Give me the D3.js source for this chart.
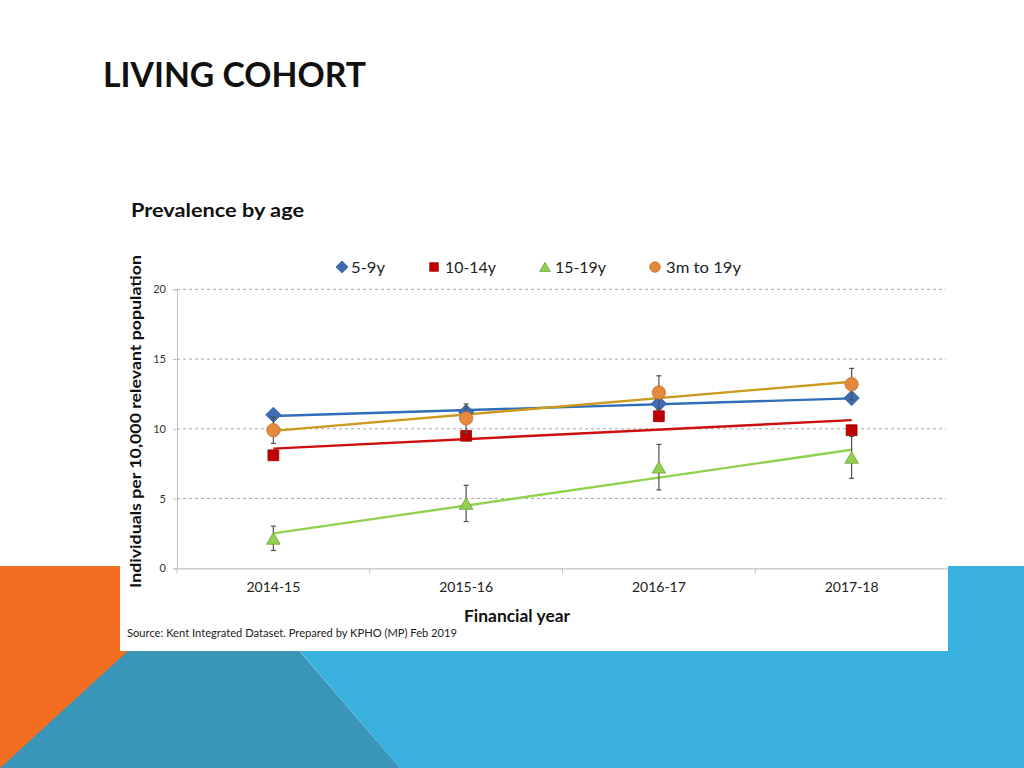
<!DOCTYPE html>
<html><head><meta charset="utf-8">
<script src="https://cdn.jsdelivr.net/npm/d3@7"></script>
<style>body{margin:0;background:#fff;overflow:hidden}svg{display:block}</style>
</head><body>
<script>
// ---- data ----
const categories = ["2014-15", "2015-16", "2016-17", "2017-18"];
const seriesNames = ["5-9y", "10-14y", "15-19y", "3m to 19y"];
const values5to9   = [11.0, 11.2, 11.8, 12.2];
const values10to14 = [8.1, 9.5, 10.9, 9.9];
const values15to19 = [2.15, 4.65, 7.25, 7.95];
const values3mto19 = [9.9, 10.75, 12.6, 13.2];
const err15to19 = [0.87, 1.3, 1.63, 1.5];
const err3mto19 = [0.95, 1.03, 1.2, 1.13];
const yTicks = [0, 5, 10, 15, 20];

const FONT = "Lato, 'Open Sans', sans-serif";
const W = 1024, H = 768;
const svg = d3.select("body").append("svg").attr("width", W).attr("height", H);

// ---- slide background shapes ----
svg.append("rect").attr("width", W).attr("height", H).attr("fill", "#fff");
const bg = [
  {pts: [[0,566],[262,566],[0,792]], fill: "#F36E21"},
  {pts: [[227,566],[1024,566],[1024,768],[400,768]], fill: "#3AB0DE"},
  {pts: [[0,768],[224,563],[400,768]], fill: "#3996B8"}
];
svg.selectAll("polygon.bg").data(bg).enter().append("polygon")
  .attr("points", d => d.pts.map(p => p.join(",")).join(" "))
  .attr("fill", d => d.fill);

// chart white box
svg.append("rect").attr("x", 120).attr("y", 230).attr("width", 828).attr("height", 421).attr("fill", "#fff");

// ---- titles ----
svg.append("text").attr("x", 103).attr("y", 87).text("LIVING COHORT")
  .attr("font-family", FONT).attr("font-weight", 700).attr("font-size", 35)
  .attr("fill", "#111").attr("textLength", 263).attr("lengthAdjust", "spacingAndGlyphs");
svg.append("text").attr("x", 131).attr("y", 217).text("Prevalence by age")
  .attr("font-family", FONT).attr("font-weight", 700).attr("font-size", 19)
  .attr("fill", "#111").attr("textLength", 173).attr("lengthAdjust", "spacingAndGlyphs");

// ---- scales ----
const x = d3.scaleBand().domain(categories).range([177, 948]).padding(0);
const cx = c => x(c) + x.bandwidth() / 2;
const y = d3.scaleLinear().domain([0, 20]).range([568.3, 289.3]);

// gridlines
svg.append("g").selectAll("line").data(yTicks.filter(t => t > 0)).enter().append("line")
  .attr("x1", 177).attr("x2", 946).attr("y1", d => y(d)).attr("y2", d => y(d))
  .attr("stroke", "#A6A6A6").attr("stroke-width", 1).attr("stroke-dasharray", "3,3");

// y axis
const yAxis = svg.append("g").attr("transform", "translate(177,0)")
  .call(d3.axisLeft(y).tickValues(yTicks).tickSize(4).tickPadding(7).tickFormat(d3.format("d")));
yAxis.select(".domain").attr("stroke", "#BFBFBF");
yAxis.selectAll(".tick line").attr("stroke", "#BFBFBF");
yAxis.selectAll("text").attr("font-family", FONT).attr("font-size", 11).attr("fill", "#333");

// x axis
const xAxis = svg.append("g").attr("transform", `translate(0,${y(0)})`)
  .call(d3.axisBottom(x).tickSize(0).tickPadding(14).tickSizeOuter(0));
xAxis.select(".domain").attr("stroke", "#BFBFBF").attr("stroke-width", 1.2);
xAxis.selectAll("text").attr("font-family", FONT).attr("font-size", 14).attr("fill", "#222");
svg.append("g").selectAll("line").data(categories).enter().append("line")
  .attr("x1", d => x(d)).attr("x2", d => x(d))
  .attr("y1", y(0)).attr("y2", y(0) + 5).attr("stroke", "#BFBFBF");

// axis titles
svg.append("text").attr("transform", `translate(141,${(255 + 588) / 2}) rotate(-90)`)
  .attr("text-anchor", "middle").text("Individuals per 10,000 relevant population")
  .attr("font-family", FONT).attr("font-weight", 700).attr("font-size", 16).attr("fill", "#111")
  .attr("textLength", 333).attr("lengthAdjust", "spacingAndGlyphs");
svg.append("text").attr("x", 517).attr("y", 622).attr("text-anchor", "middle").text("Financial year")
  .attr("font-family", FONT).attr("font-weight", 700).attr("font-size", 17).attr("fill", "#111")
  .attr("textLength", 106).attr("lengthAdjust", "spacingAndGlyphs");
svg.append("text").attr("x", 127).attr("y", 637).text("Source: Kent Integrated Dataset. Prepared by KPHO (MP) Feb 2019")
  .attr("font-family", FONT).attr("font-size", 12).attr("fill", "#222")
  .attr("textLength", 330).attr("lengthAdjust", "spacingAndGlyphs");

// ---- series ----
const series = [
  {name: seriesNames[0], vals: values5to9, err: null, symbol: d3.symbolDiamond2, size: 150, fill: "#3C6DB5", stroke: "#2F5D9E", line: "#2E6DB8"},
  {name: seriesNames[1], vals: values10to14, err: null, symbol: d3.symbolSquare2, size: 150, fill: "#C00000", stroke: "#A00000", line: "#CC1010"},
  {name: seriesNames[2], vals: values15to19, err: err15to19, symbol: d3.symbolTriangle2, size: 130, fill: "#92D050", stroke: "#6FA03A", line: "#92D050"},
  {name: seriesNames[3], vals: values3mto19, err: err3mto19, symbol: d3.symbolCircle, size: 140, fill: "#E38A3C", stroke: "#C07030", line: "#CC9A1C"}
];

// linear trendlines (least squares on the category index, like Excel)
function trend(vals) {
  const n = vals.length, xs = d3.range(n);
  const mx = d3.mean(xs), my = d3.mean(vals);
  const b = d3.sum(xs, i => (i - mx) * (vals[i] - my)) / d3.sum(xs, i => (i - mx) ** 2);
  const a = my - b * mx;
  return [[0, a], [n - 1, a + b * (n - 1)]];
}
series.forEach(s => {
  const t = trend(s.vals);
  svg.append("line")
    .attr("x1", cx(categories[t[0][0]])).attr("y1", y(t[0][1]))
    .attr("x2", cx(categories[t[1][0]])).attr("y2", y(t[1][1]))
    .attr("stroke", s.line).attr("stroke-width", 2.4);
});

series.forEach(s => {
  const g = svg.append("g");
  if (s.err) {
    s.vals.forEach((v, i) => {
      const X = cx(categories[i]);
      const e = s.err[i];
      g.append("line").attr("x1", X).attr("x2", X).attr("y1", y(v - e)).attr("y2", y(v + e))
        .attr("stroke", "#505050").attr("stroke-width", 1.2);
      [v - e, v + e].forEach(w => g.append("line").attr("x1", X - 2.5).attr("x2", X + 2.5)
        .attr("y1", y(w)).attr("y2", y(w)).attr("stroke", "#505050").attr("stroke-width", 1.2));
    });
  }
  g.selectAll("path").data(s.vals).enter().append("path")
    .attr("d", d3.symbol().type(s.symbol).size(s.size))
    .attr("transform", (v, i) => {
      const dy = s.symbol === d3.symbolTriangle2 ? 2 : 0;
      return `translate(${cx(categories[i])},${y(v) + dy})`;
    })
    .attr("fill", s.fill).attr("stroke", s.stroke).attr("stroke-width", 0.8);
});

// ---- legend ----
const legendPos = [{sx: 342, tx: 351, tw: 34}, {sx: 434, tx: 445, tw: 51}, {sx: 545, tx: 555, tw: 51}, {sx: 655, tx: 666, tw: 75}];
series.forEach((s, i) => {
  const p = legendPos[i];
  svg.append("path").attr("d", d3.symbol().type(s.symbol).size(s.size * 0.62))
    .attr("transform", `translate(${p.sx},${s.symbol === d3.symbolTriangle2 ? 268.5 : 267})`)
    .attr("fill", s.fill).attr("stroke", s.stroke).attr("stroke-width", 0.8);
  svg.append("text").attr("x", p.tx).attr("y", 273).text(s.name)
    .attr("font-family", FONT).attr("font-size", 16).attr("fill", "#222")
    .attr("textLength", p.tw).attr("lengthAdjust", "spacingAndGlyphs");
});
</script>
</body></html>
